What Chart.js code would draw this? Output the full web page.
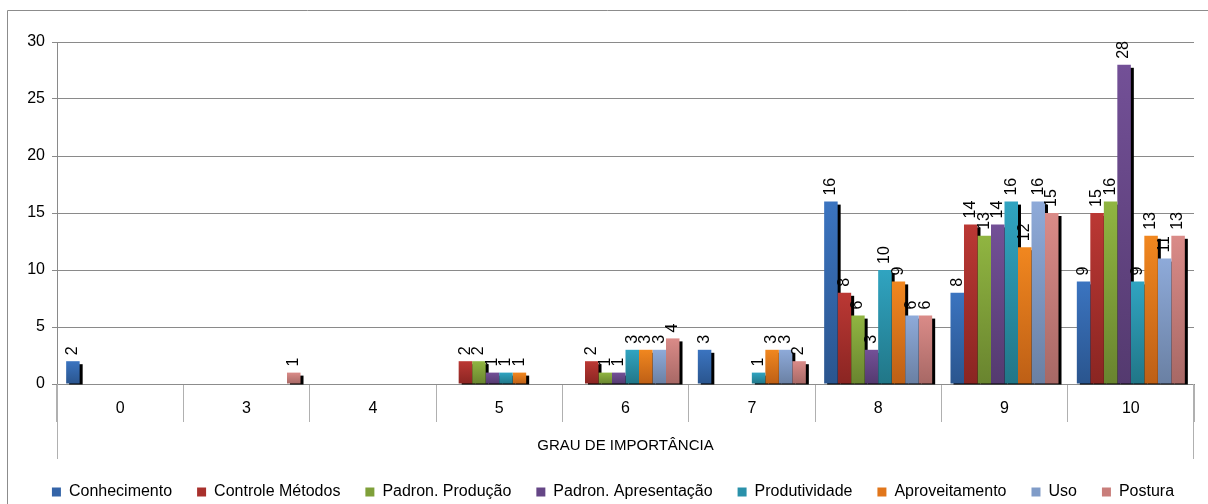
<!DOCTYPE html>
<html>
<head>
<meta charset="utf-8">
<script src="https://cdn.jsdelivr.net/npm/chart.js@4.4.1/dist/chart.umd.min.js"></script>
<style>
  html, body { margin: 0; padding: 0; background: #fff; }
  #wrap { width: 1208px; height: 504px; }
</style>
</head>
<body>
<div id="wrap"><canvas id="grauChart"></canvas></div>
<script>
// dados do gráfico
const categorias = ['0', '3', '4', '5', '6', '7', '8', '9', '10'];
const conhecimento       = [2, null, null, null, null, 3, 16, 8, 9];
const controleMetodos    = [null, null, null, 2, 2, null, 8, 14, 15];
const padronProducao     = [null, null, null, 2, 1, null, 6, 13, 16];
const padronApresentacao = [null, null, null, 1, 1, null, 3, 14, 28];
const produtividade      = [null, null, null, 1, 3, 1, 10, 16, 9];
const aproveitamento     = [null, null, null, 1, 3, 3, 9, 12, 13];
const uso                = [null, null, null, null, 3, 3, 6, 16, 11];
const postura            = [null, 1, null, null, 4, 2, 6, 15, 13];
const yTicks = [0, 5, 10, 15, 20, 25, 30];

Chart.defaults.font.family = "'Liberation Sans', Arial, sans-serif";
Chart.defaults.color = '#000';

// gradiente vertical por barra (claro em cima, escuro embaixo)
function barFill(top, bottom) {
    return function(ctx) {
        const chart = ctx.chart;
        if (!chart.chartArea || ctx.type !== 'data' || !chart.scales.y) return bottom;
        const y = chart.scales.y;
        const y0 = y.getPixelForValue(0);
        const y1 = y.getPixelForValue(ctx.raw || 0);
        if (y0 - y1 < 1) return bottom;
        const g = chart.ctx.createLinearGradient(0, y1, 0, y0);
        g.addColorStop(0, top);
        g.addColorStop(1, bottom);
        return g;
    };
}

function serie(label, data, top, bottom, mid) {
    return {
        label: label,
        data: data,
        backgroundColor: barFill(top, bottom),
        legendColor: mid,
        borderWidth: 0,
        categoryPercentage: 0.855,
        barPercentage: 1.0
    };
}

// sombra preta à direita das barras
const sombraPlugin = {
    id: 'sombra',
    beforeDatasetsDraw(chart) {
        const c = chart.ctx;
        c.save();
        c.fillStyle = '#000';
        chart.data.datasets.forEach((ds, i) => {
            chart.getDatasetMeta(i).data.forEach((bar, j) => {
                if (ds.data[j] == null) return;
                const p = bar.getProps(['x', 'y', 'base', 'width'], true);
                c.fillRect(p.x - p.width / 2 + 3, p.y + 3, p.width, p.base - p.y - 2);
            });
        });
        c.restore();
    }
};

// rótulos de valor girados
const rotulosPlugin = {
    id: 'rotulos',
    afterDatasetsDraw(chart) {
        const c = chart.ctx;
        c.save();
        c.fillStyle = '#000';
        c.font = "16px 'Liberation Sans', Arial, sans-serif";
        c.textAlign = 'left';
        c.textBaseline = 'middle';
        chart.data.datasets.forEach((ds, i) => {
            chart.getDatasetMeta(i).data.forEach((bar, j) => {
                const v = ds.data[j];
                if (v == null) return;
                const p = bar.getProps(['x', 'y'], true);
                c.save();
                c.translate(p.x, p.y - 6);
                c.rotate(-Math.PI / 2);
                c.fillText(String(v), 0, 0);
                c.restore();
            });
        });
        c.restore();
    }
};

// moldura externa e linhas do eixo de categorias
const molduraPlugin = {
    id: 'moldura',
    afterLayout(chart) {
        if (chart.legend) {
            chart.legend.left += 16;
            chart.legend.right += 16;
        }
    },
    afterDraw(chart) {
        const c = chart.ctx;
        const x = chart.scales.x;
        c.save();
        c.strokeStyle = '#8c8c8c';
        c.lineWidth = 1;
        c.beginPath();
        c.moveTo(7.5, chart.height);
        c.lineTo(7.5, 10.5);
        c.lineTo(chart.width, 10.5);
        c.stroke();
        c.strokeStyle = '#b0b0b0';
        c.beginPath();
        const l = Math.round(x.left) + 0.5, r = Math.round(x.right) - 0.5;
        c.moveTo(l, x.top); c.lineTo(l, x.bottom);
        c.moveTo(r, x.top); c.lineTo(r, x.bottom);
        c.stroke();
        c.restore();
    }
};

const ctx = document.getElementById('grauChart').getContext('2d');
window.grauChart = new Chart(ctx, {
    type: 'bar',
    data: {
        labels: categorias,
        datasets: [
            serie('Conhecimento', conhecimento, '#3b74c0', '#2a558e', '#3464a8'),
            serie('Controle Métodos', controleMetodos, '#bb3834', '#8a2522', '#a8302c'),
            serie('Padron. Produção', padronProducao, '#90b541', '#69842f', '#7fa03a'),
            serie('Padron. Apresentação', padronApresentacao, '#735097', '#543a6f', '#654686'),
            serie('Produtividade', produtividade, '#30a4c1', '#217687', '#2a91aa'),
            serie('Aproveitamento', aproveitamento, '#f1871f', '#bd5f16', '#e1761b'),
            serie('Uso', uso, '#8eaad9', '#6a80a3', '#809cc8'),
            serie('Postura', postura, '#da8b88', '#a76865', '#c97e7b')
        ]
    },
    options: {
        responsive: true,
        maintainAspectRatio: false,
        animation: false,
        layout: {
            padding: { top: 42, right: 14, bottom: -6, left: 0 }
        },
        scales: {
            x: {
                offset: true,
                grid: {
                    offset: true,
                    drawOnChartArea: false,
                    tickLength: 38,
                    color: '#b0b0b0'
                },
                border: { color: '#8c8c8c' },
                ticks: {
                    font: { size: 16 },
                    padding: -23
                },
                title: {
                    display: true,
                    text: 'GRAU DE IMPORTÂNCIA',
                    font: { size: 15 },
                    padding: { top: 0, bottom: 4 }
                },
                afterFit(scale) { scale.height = 75; }
            },
            y: {
                min: 0,
                max: 30,
                afterBuildTicks(scale) { scale.ticks = yTicks.map(v => ({ value: v })); },
                grid: { color: '#8a8a8a', tickLength: 5 },
                border: { color: '#8a8a8a' },
                ticks: { font: { size: 16 }, padding: 7 },
                afterFit(scale) { scale.width = 57; }
            }
        },
        plugins: {
            legend: {
                position: 'bottom',
                labels: {
                    boxWidth: 9,
                    boxHeight: 9,
                    padding: 25,
                    font: { size: 16 },
                    generateLabels(chart) {
                        const items = Chart.defaults.plugins.legend.labels.generateLabels(chart);
                        items.forEach(it => {
                            it.fillStyle = chart.data.datasets[it.datasetIndex].legendColor;
                            it.lineWidth = 0;
                        });
                        return items;
                    }
                }
            },
            tooltip: { enabled: false }
        }
    },
    plugins: [sombraPlugin, rotulosPlugin, molduraPlugin]
});
</script>
</body>
</html>
